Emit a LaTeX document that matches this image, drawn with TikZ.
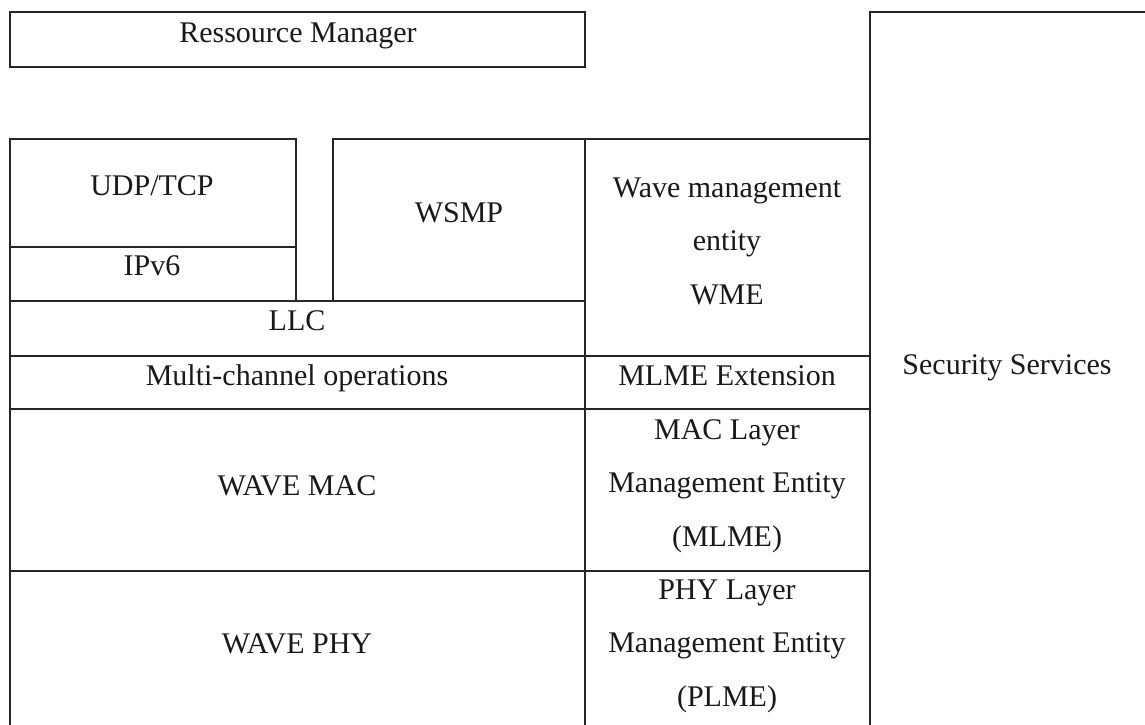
\documentclass[tikz,border=0pt]{standalone}
\usepackage{fontspec}
\setmainfont{Liberation Serif}
\begin{document}
\begin{tikzpicture}[x=1pt,y=-1pt,
  boxline/.style={draw=black!85,line width=1.3pt},
  txt/.style={anchor=base,inner sep=0pt,align=center,text=black!90,
    font=\fontsize{30}{53.5}\selectfont}]
\useasboundingbox (0,0) rectangle (1145,724);
% boxes
\draw[boxline] (10,12) rectangle (585,67);
\draw[boxline] (10,139) rectangle (296,247);
\draw[boxline] (10,247) rectangle (296,301);
\draw[boxline] (333,139) rectangle (585,301);
\draw[boxline] (585,139) rectangle (870,356);
\draw[boxline] (10,301) rectangle (585,356);
\draw[boxline] (10,356) rectangle (585,409);
\draw[boxline] (585,356) rectangle (870,409);
\draw[boxline] (10,409) rectangle (585,571);
\draw[boxline] (585,409) rectangle (870,571);
\draw[boxline] (10,571) rectangle (585,740);
\draw[boxline] (585,571) rectangle (870,740);
\draw[boxline] (870,740) -- (870,12) -- (1160,12);
% texts (base anchor = baseline of the last line)
\node[txt] (rm) at (298,42) {Ressource Manager};
\node[txt] (udp) at (152,195) {UDP/TCP};
\node[txt] (ip) at (152,275) {IPv6};
\node[txt] (wsmp) at (459,222) {WSMP};
\node[txt] (wme) at (727,304) {Wave management\\entity\\WME};
\node[txt] (llc) at (297,330) {LLC};
\node[txt] (mco) at (297,385) {Multi-channel operations};
\node[txt] (mext) at (727,385) {MLME Extension};
\node[txt] (mac) at (297,495) {WAVE MAC};
\node[txt] (mlme) at (727,546) {MAC Layer\\Management Entity\\(MLME)};
\node[txt] (phy) at (297,653) {WAVE PHY};
\node[txt] (plme) at (727,706) {PHY Layer\\Management Entity\\(PLME)};
\node[txt] (sec) at (1007,374) {Security Services};
\end{tikzpicture}
\end{document}
